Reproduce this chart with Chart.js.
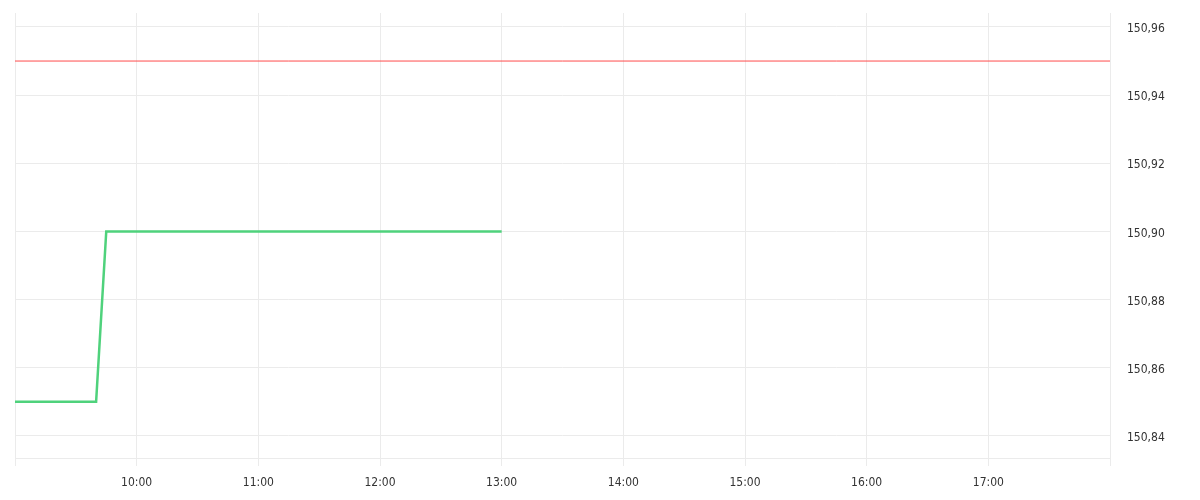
<!DOCTYPE html>
<html>
<head>
<meta charset="utf-8">
<script src="https://cdn.jsdelivr.net/npm/chart.js@4"></script>
<style>
  html, body { margin: 0; padding: 0; background: #fff; }
  #wrap { width: 1200px; height: 500px; }
</style>
</head>
<body>
<div id="wrap"><canvas id="myChart" width="1200" height="500"></canvas></div>
<script>
// price series (times as HH:MM)
const priceTimes = ['09:00', '09:40', '09:45', '13:00'];
const priceValues = [150.85, 150.85, 150.90, 150.90];
// reference level
const levelTimes = ['09:00', '18:00'];
const levelValues = [150.95, 150.95];
// axis
const xTickLabels = ['10:00', '11:00', '12:00', '13:00', '14:00', '15:00', '16:00', '17:00'];
const yTickValues = [150.84, 150.86, 150.88, 150.90, 150.92, 150.94, 150.96];

function toHours(t) {
    const p = t.split(':');
    return parseInt(p[0], 10) + parseInt(p[1], 10) / 60;
}
function toPoints(times, values) {
    return times.map(function (t, i) { return { x: toHours(t), y: values[i] }; });
}

const tickFont = { family: 'DejaVu Sans Condensed', size: 12 };

const ctx = document.getElementById('myChart');
const myChart = new Chart(ctx, {
    type: 'line',
    data: {
        datasets: [{
            data: toPoints(priceTimes, priceValues),
            borderColor: '#4fd27c',
            borderWidth: 2.5,
            pointRadius: 0,
            tension: 0
        }, {
            data: toPoints(levelTimes, levelValues),
            borderColor: '#ff4b4b',
            borderWidth: 1,
            pointRadius: 0,
            tension: 0
        }]
    },
    options: {
        responsive: false,
        animation: false,
        layout: {
            padding: { left: 15, top: 13 }
        },
        plugins: {
            legend: { display: false },
            tooltip: { enabled: false }
        },
        scales: {
            x: {
                type: 'linear',
                min: 9,
                max: 18,
                border: { display: true, color: '#ebebeb' },
                grid: {
                    color: '#ebebeb',
                    drawTicks: true,
                    tickLength: 8
                },
                ticks: {
                    stepSize: 1,
                    autoSkip: false,
                    maxRotation: 0,
                    padding: 10,
                    color: '#333',
                    font: tickFont,
                    callback: function (value) {
                        const lbl = (value < 10 ? '0' : '') + value + ':00';
                        return xTickLabels.indexOf(lbl) >= 0 ? lbl : '';
                    }
                },
                afterFit: function (scale) {
                    scale.height = 42;
                    scale.paddingLeft = 0;
                    scale.paddingRight = 0;
                }
            },
            y: {
                position: 'right',
                min: 150.8335,
                max: 150.9641,
                border: { display: true, color: '#ebebeb' },
                grid: {
                    color: '#ebebeb',
                    drawTicks: false
                },
                ticks: {
                    padding: 17,
                    labelOffset: 2,
                    includeBounds: false,
                    color: '#333',
                    font: tickFont,
                    callback: function (value) {
                        return value.toFixed(2).replace('.', ',');
                    }
                },
                afterBuildTicks: function (scale) {
                    scale.ticks = yTickValues.map(function (v) { return { value: v }; });
                },
                afterFit: function (scale) {
                    scale.width = 90;
                    scale.paddingTop = 0;
                    scale.paddingBottom = 0;
                }
            }
        }
    }
});
</script>
</body>
</html>
